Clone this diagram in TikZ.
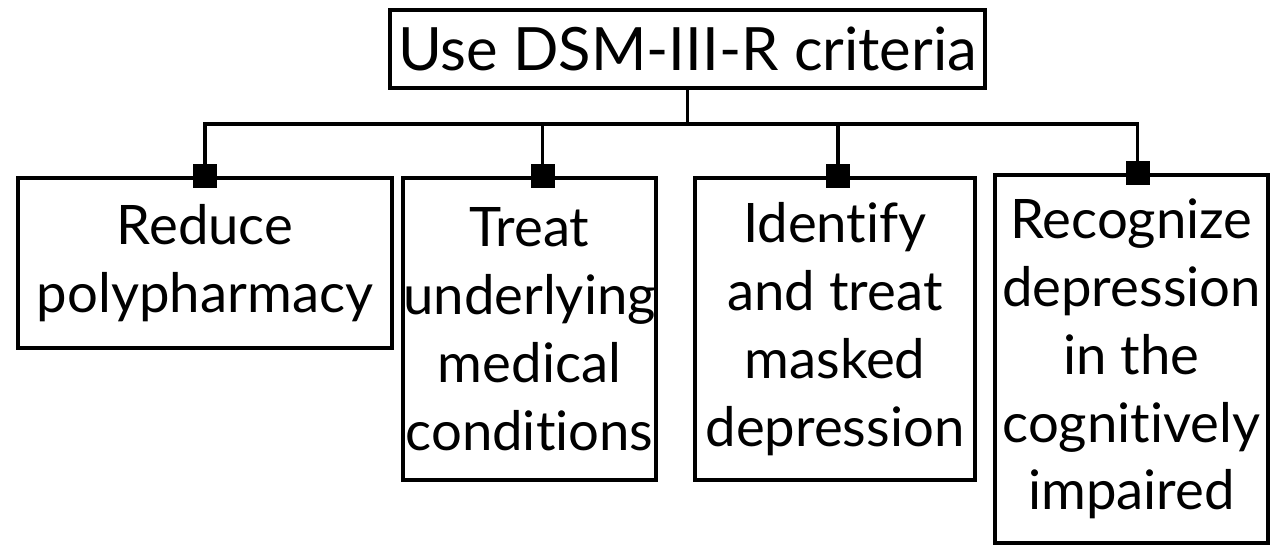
\documentclass[tikz,border=0pt]{standalone}
\usepackage{fontspec}
\setmainfont{Lato}[Ligatures={NoCommon}]
\usetikzlibrary{calc}
\begin{document}
\begin{tikzpicture}[x=0.02cm,y=-0.02cm,
  box/.style={draw, line width=2.2pt, inner sep=0pt, align=center,
    font=\fontsize{31}{38.6}\selectfont},
  topbox/.style={box, font=\fontsize{34}{40}\selectfont},
  link/.style={line width=2.2pt, line join=miter},
  knob/.style={fill=black, minimum size=0.48cm, inner sep=0pt}]
\useasboundingbox (0,0) rectangle (1272,547);
\node[topbox, minimum width=11.9cm, minimum height=1.56cm] (top) at (687.5,49) {Use DSM-III-R criteria};
\node[box, minimum width=7.48cm, minimum height=3.4cm] (b1) at (205,263) {Reduce\\polypharmacy};
\node[box, minimum width=4.9cm, minimum height=6.04cm] (b2) at (529.5,329) {Treat\\underlying\\medical\\conditions};
\node[box, minimum width=5.6cm, minimum height=6.04cm] (b3) at (835,329) {Identify\\and treat\\masked\\depression};
\node[box, minimum width=5.46cm, minimum height=7.36cm] (b4) at (1131.5,359) {Recognize\\depression\\in the\\cognitively\\impaired};
\coordinate (bus) at ($(top.south)+(0,34)$);
\coordinate (d1) at ($(b1.north)+(0,0)$);
\coordinate (d2) at ($(b2.north)+(13,0)$);
\coordinate (d3) at ($(b3.north)+(3,0)$);
\coordinate (d4) at ($(b4.north)+(6,0)$);
\draw[link] (top.south) -- (bus);
\draw[link] (d1) |- (bus) -| (d4);
\draw[link] (d2) -- (d2 |- bus);
\draw[link] (d3) -- (d3 |- bus);
\node[knob] (k1) at (d1) {};
\node[knob] (k2) at (d2) {};
\node[knob] (k3) at (d3) {};
\node[knob] (k4) at (d4) {};
\end{tikzpicture}
\end{document}
